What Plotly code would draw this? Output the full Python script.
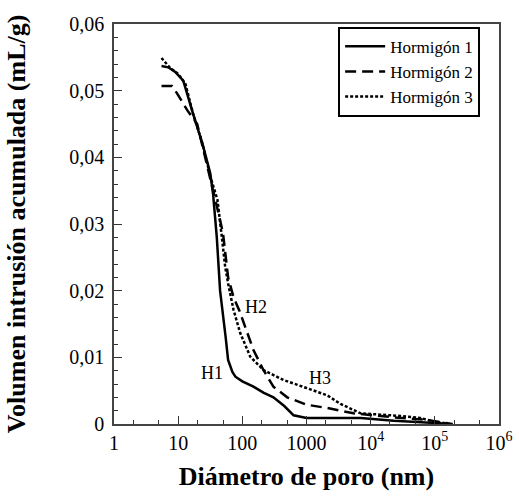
import math
import plotly.graph_objects as go

# Data
h1_d = [5.5, 7, 9, 12, 17, 24, 31.6, 35, 40, 45, 55, 60, 70, 78, 100, 149, 213, 305, 450, 630, 1000, 3000, 7000, 23000, 60000, 100000, 190000]
h1_v = [0.0537, 0.0535, 0.0528, 0.0515, 0.0466, 0.042, 0.0376, 0.0345, 0.028, 0.020, 0.013, 0.0096, 0.0078, 0.0071, 0.0064, 0.0056, 0.0047, 0.0040, 0.0027, 0.0013, 0.0009, 0.0009, 0.0009, 0.0005, 0.0003, 0.0002, 0.0]

h2_d = [5.5, 8, 9.6, 14, 19.8, 25, 32, 38, 44, 50, 60, 73, 90, 105, 149, 213, 305, 500, 1000, 2100, 5400, 23000, 78000, 160000]
h2_v = [0.0507, 0.0507, 0.0496, 0.047, 0.045, 0.041, 0.037, 0.0336, 0.031, 0.0286, 0.022, 0.019, 0.017, 0.0151, 0.0111, 0.0081, 0.0056, 0.0040, 0.0029, 0.0024, 0.0016, 0.0010, 0.0006, 0.0001]

h3_d = [5.5, 7.5, 10, 13, 17, 24, 32, 41, 48, 54, 60, 73, 93, 133, 213, 437, 1000, 2100, 3400, 7000, 30000, 60000, 100000, 190000]
h3_v = [0.0549, 0.0534, 0.0525, 0.051, 0.0466, 0.042, 0.037, 0.0336, 0.028, 0.0236, 0.0211, 0.0171, 0.0136, 0.0101, 0.0081, 0.0066, 0.0054, 0.0043, 0.0030, 0.0016, 0.0012, 0.0009, 0.0003, 0.0]

series_names = ["Hormigón 1", "Hormigón 2", "Hormigón 3"]

x_tickvals = [1, 10, 100, 1000, 1e4, 1e5, 1e6]
x_ticktext = ["1", "10", "100", "1000", "10<sup>4</sup>", "10<sup>5</sup>", "10<sup>6</sup>"]
y_tickvals = [0, 0.01, 0.02, 0.03, 0.04, 0.05, 0.06]
y_ticktext = ["0", "0,01", "0,02", "0,03", "0,04", "0,05", "0,06"]

labels = ["H1", "H2", "H3"]
label_d = [34, 166, 1600]
label_v = [0.0077, 0.0176, 0.0069]

FONT = "Liberation Serif, Times New Roman, serif"

fig = go.Figure()
fig.add_trace(go.Scatter(x=h1_d, y=h1_v, mode="lines", name=series_names[0],
                         line=dict(color="black", width=2.5, dash="solid")))
fig.add_trace(go.Scatter(x=h2_d, y=h2_v, mode="lines", name=series_names[1],
                         line=dict(color="black", width=2.5, dash="11px,6px")))
fig.add_trace(go.Scatter(x=h3_d, y=h3_v, mode="lines", name=series_names[2],
                         line=dict(color="black", width=2.5, dash="3px,2px")))

# log axis: annotation x positions are given in log10 units
for t, xd, yv in zip(labels, label_d, label_v):
    fig.add_annotation(x=math.log10(xd), y=yv, text=t, showarrow=False, xref="x", yref="y",
                       font=dict(family=FONT, size=18, color="black"))

fig.update_layout(
    width=519, height=498,
    margin=dict(l=114, r=20, t=24, b=74, autoexpand=False),
    paper_bgcolor="white", plot_bgcolor="white",
    font=dict(family=FONT, color="black"),
    showlegend=True,
    legend=dict(x=0.951, y=0.993, xanchor="right", yanchor="top",
                bgcolor="white", bordercolor="black", borderwidth=2,
                font=dict(family=FONT, size=17, color="black"),
                tracegroupgap=0, itemwidth=40),
)
fig.update_xaxes(
    type="log", range=[0, 6], automargin=True,
    tickvals=x_tickvals, ticktext=x_ticktext,
    tickfont=dict(family=FONT, size=20, color="black"),
    ticks="inside", ticklen=8, tickcolor="#333",
    minor=dict(ticks="inside", ticklen=4, tickcolor="#333", showgrid=False),
    showgrid=False, zeroline=False,
    showline=True, linecolor="#444", linewidth=1.5, mirror=True,
    title=dict(text="<b>Diámetro de poro (nm)</b>", font=dict(family=FONT, size=26, color="black"), standoff=14),
)
fig.update_yaxes(
    range=[0, 0.06], automargin=True,
    tickvals=y_tickvals, ticktext=y_ticktext,
    tickfont=dict(family=FONT, size=20, color="black"),
    ticks="inside", ticklen=8, tickcolor="#333",
    minor=dict(ticks="inside", ticklen=4, dtick=0.002, tickcolor="#333", showgrid=False),
    showgrid=False, zeroline=False, ticklabelstandoff=4,
    showline=True, linecolor="#444", linewidth=1.5, mirror=True,
    title=dict(text="<b>Volumen intrusión acumulada (mL/g)</b>", font=dict(family=FONT, size=26, color="black"), standoff=36),
)

fig.write_html("out.html", config={"displayModeBar": False},
               post_script="document.body.style.margin='0px';")
